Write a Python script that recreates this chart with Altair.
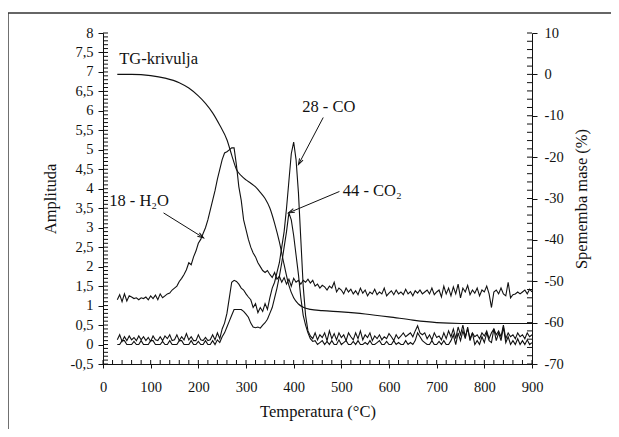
import math
import altair as alt
import pandas as pd

# ---------------- data ----------------
TEMPS = list(range(30, 901, 5))

H2O = [
    1.15, 1.28, 1.10, 1.30, 1.12, 1.25, 1.22, 1.18, 1.20, 1.15,
    1.20, 1.18, 1.22, 1.15, 1.25, 1.18, 1.27, 1.15, 1.30, 1.20,
    1.25, 1.30, 1.32, 1.40, 1.45, 1.50, 1.62, 1.70, 1.80, 1.92,
    2.10, 2.05, 2.25, 2.40, 2.60, 2.70, 2.85, 3.00, 3.20, 3.45,
    3.70, 3.95, 4.25, 4.50, 4.75, 4.92, 4.95, 5.00, 5.05, 5.05,
    4.60, 4.05, 3.70, 3.20, 2.95, 2.70, 2.50, 2.35, 2.25, 2.10,
    2.00, 1.90, 1.85, 1.90, 1.80, 1.72, 1.85, 1.68, 1.75, 1.60,
    1.72, 1.55, 1.68, 1.50, 1.70, 1.60, 1.65, 1.55, 1.65, 1.60,
    1.68, 1.58, 1.65, 1.50, 1.55, 1.45, 1.52, 1.48, 1.40, 1.50,
    1.45, 1.60, 1.35, 1.45, 1.40, 1.30, 1.45, 1.35, 1.42, 1.30,
    1.38, 1.28, 1.45, 1.32, 1.40, 1.25, 1.35, 1.30, 1.42, 1.28,
    1.35, 1.30, 1.45, 1.25, 1.32, 1.38, 1.28, 1.40, 1.30, 1.35,
    1.28, 1.42, 1.30, 1.36, 1.25, 1.38, 1.32, 1.40, 1.30, 1.35,
    1.40, 1.30, 1.45, 1.28, 1.35, 1.40, 1.22, 1.50, 1.30, 1.45,
    1.25, 1.48, 1.30, 1.55, 1.20, 1.45, 1.35, 1.52, 1.28, 1.40,
    1.32, 1.45, 1.25, 1.40, 1.35, 1.50, 1.30, 0.95, 1.35, 1.40,
    1.30, 1.45, 1.30, 1.25, 1.60, 1.20, 1.28, 1.30, 1.35, 1.30,
    1.35, 1.40, 1.30, 1.42, 1.35,
]

CO = [
    0.12, 0.25, 0.08, 0.20, 0.10, 0.22, 0.12, 0.18, 0.10, 0.22,
    0.12, 0.20, 0.10, 0.18, 0.08, 0.22, 0.12, 0.10, 0.20, 0.10,
    0.22, 0.15, 0.25, 0.10, 0.12, 0.25, 0.10, 0.20, 0.12, 0.28,
    0.12, 0.20, 0.10, 0.10, 0.25, 0.12, 0.10, 0.18, 0.10, 0.12,
    0.25, 0.12, 0.30, 0.15, 0.40, 0.55, 0.80, 1.20, 1.60, 1.65,
    1.62, 1.55, 1.45, 1.40, 1.30, 1.22, 1.15, 0.95, 1.05, 0.82,
    0.95, 0.85, 1.05, 0.90, 1.20, 1.45, 1.60, 1.85, 2.10, 2.50,
    2.90, 3.50, 4.20, 4.90, 5.20, 4.75, 3.90, 2.70, 1.50, 0.75,
    0.35, 0.22, 0.15, 0.30, 0.12, 0.25, 0.18, 0.30, 0.10, 0.35,
    0.15, 0.28, 0.12, 0.30, 0.18, 0.25, 0.10, 0.30, 0.20, 0.12,
    0.30, 0.15, 0.35, 0.12, 0.25, 0.18, 0.30, 0.10, 0.22, 0.15,
    0.25, 0.12, 0.20, 0.15, 0.28, 0.20, 0.10, 0.25, 0.15, 0.22,
    0.30, 0.20, 0.25, 0.30, 0.20, 0.35, 0.48, 0.30, 0.25, 0.30,
    0.15, 0.25, 0.12, 0.30, 0.18, 0.22, 0.12, 0.30, 0.15, 0.35,
    0.20, 0.40, 0.15, 0.45, 0.25, 0.50, 0.20, 0.40, 0.15, 0.30,
    0.20, 0.25, 0.15, 0.30, 0.22, 0.35, 0.15, 0.30, 0.40, 0.25,
    0.35, 0.20, 0.50, 0.15, 0.30, 0.20, 0.25, 0.15, 0.30, 0.20,
    0.25, 0.15, 0.30, 0.20, 0.25,
]

CO2 = [
    0.00, 0.00, 0.10, 0.10, 0.00, 0.00, 0.00, 0.08, 0.00, 0.00,
    0.10, 0.00, 0.00, 0.00, 0.10, 0.10, 0.00, 0.00, 0.00, 0.08,
    0.00, 0.00, 0.10, 0.00, 0.00, 0.00, 0.10, 0.10, 0.00, 0.00,
    0.00, 0.10, 0.00, 0.00, 0.08, 0.00, 0.00, 0.10, 0.00, 0.00,
    0.10, 0.00, 0.12, 0.05, 0.20, 0.30, 0.45, 0.60, 0.75, 0.90,
    0.90, 0.90, 0.90, 0.85, 0.78, 0.70, 0.55, 0.45, 0.43, 0.45,
    0.42, 0.50, 0.56, 0.65, 0.80, 0.95, 1.20, 1.45, 1.75, 2.10,
    2.50, 2.90, 3.38, 3.20, 2.80, 2.30, 1.80, 1.20, 0.75, 0.50,
    0.30, 0.15, 0.08, 0.10, 0.00, 0.05, 0.10, 0.00, 0.08, 0.00,
    0.10, 0.00, 0.00, 0.12, 0.00, 0.05, 0.10, 0.00, 0.00, 0.08,
    0.00, 0.10, 0.00, 0.00, 0.05, 0.00, 0.10, 0.00, 0.00, 0.05,
    0.10, 0.00, 0.00, 0.08, 0.00, 0.00, 0.10, 0.00, 0.05, 0.00,
    0.00, 0.10, 0.00, 0.05, 0.00, 0.10, 0.30, 0.20, 0.10, 0.05,
    0.00, 0.00, 0.10, 0.00, 0.00, 0.08, 0.00, 0.10, 0.00, 0.00,
    0.10, 0.25, 0.00, 0.30, 0.10, 0.35, 0.15, 0.45, 0.10, 0.30,
    0.00, 0.10, 0.00, 0.20, 0.05, 0.30, 0.10, 0.05, 0.40, 0.10,
    0.30, 0.10, 0.45, 0.05, 0.20, 0.00, 0.10, 0.00, 0.15, 0.00,
    0.10, 0.00, 0.12, 0.00, 0.05,
]

TG_T = [30, 60, 100, 130, 160, 180, 200, 215, 230, 245, 260, 270, 280, 290,
        300, 310, 320, 330, 340, 350, 360, 370, 380, 390, 400, 410, 420, 435,
        460, 500, 550, 600, 650, 700, 750, 800, 850, 900]
TG_M = [0.0, 0.0, -0.3, -0.9, -2.0, -3.3, -5.2, -7.0, -9.3, -12.3, -15.8, -19.5,
        -23.0, -24.5, -25.5, -26.3, -27.2, -28.5, -30.0, -32.3, -36.0, -40.5,
        -46.0, -51.0, -54.0, -55.5, -56.3, -56.8, -57.1, -57.4, -57.9, -58.6,
        -59.4, -60.0, -60.2, -60.2, -60.2, -60.2]

LABELS = ["TG-krivulja", "28 - CO", "44 - CO\u2082", "18 - H\u2082O"]
LABEL_T = [34, 418, 503, 13]
LABEL_A = [7.32, 6.09, 3.93, 3.68]

ARROW_T1 = [462, 496, 127]
ARROW_A1 = [5.83, 3.93, 3.38]
ARROW_T2 = [410, 389, 211]
ARROW_A2 = [4.62, 3.38, 2.74]

X_TICKS = list(range(0, 901, 100))
X_MINOR = list(range(0, 901, 20))
A_TICKS = [round(-0.5 + 0.5 * i, 1) for i in range(18)]
A_MINOR = [round(-0.5 + 0.1 * i, 1) for i in range(86)]
M_TICKS = list(range(-70, 11, 10))
M_MINOR = list(range(-70, 11, 2))

# ---------------- layout / style ----------------
W, H = 429, 331
FONT = "Liberation Serif, Times New Roman, serif"
INK = "#111111"

series_df = pd.DataFrame({
    "T": TEMPS * 3,
    "a": H2O + CO + CO2,
    "s": ["H2O"] * len(TEMPS) + ["CO"] * len(TEMPS) + ["CO2"] * len(TEMPS),
})
tg_df = pd.DataFrame({"T": TG_T, "m": TG_M})
lab_df = pd.DataFrame({"T": LABEL_T, "a": LABEL_A, "txt": LABELS})
arr_df = pd.DataFrame({"T": ARROW_T1, "a": ARROW_A1, "T2": ARROW_T2, "a2": ARROW_A2})
arr_df["ang"] = [
    (math.degrees(math.atan2((t2 - t1) * W / 900.0, (a2 - a1) * H / 8.5)) + 360) % 360
    for t1, a1, t2, a2 in zip(ARROW_T1, ARROW_A1, ARROW_T2, ARROW_A2)
]

x_scale = alt.Scale(domain=[0, 900], nice=False, zero=False)
a_scale = alt.Scale(domain=[-0.5, 8], nice=False, zero=False)
m_scale = alt.Scale(domain=[-70, 10], nice=False, zero=False)

x_axis = alt.Axis(values=X_TICKS, title="Temperatura (\u00b0C)", tickSize=4,
                  labelPadding=12, titlePadding=10, grid=False, format="d",
                  labelFlush=False)
a_axis = alt.Axis(values=A_TICKS, title="Amplituda", tickSize=5, labelPadding=5,
                  titlePadding=12, grid=False, labelFlush=False,
                  labelExpr="(datum.value < 0 ? '-' : '') + replace(toString(abs(datum.value)), '.', ',')")
m_axis = alt.Axis(values=M_TICKS, title="Spememba mase (%)", orient="right", tickSize=5,
                  labelPadding=7, titlePadding=10, grid=False, labelFlush=False,
                  titleAngle=270, titleBaseline="top",
                  labelExpr="(datum.value < 0 ? '-' : '') + toString(abs(datum.value))")

X = alt.X("T:Q", scale=x_scale, axis=x_axis)
YA = alt.Y("a:Q", scale=a_scale, axis=a_axis)
YM = alt.Y("m:Q", scale=m_scale, axis=m_axis)

lines = alt.Chart(series_df).mark_line(color=INK, strokeWidth=1.1).encode(
    x=X, y=YA, detail="s:N")

labels = alt.Chart(lab_df).mark_text(align="left", baseline="middle", font=FONT,
                                     fontSize=16.5, color=INK).encode(
    x=X, y=YA, text="txt:N")

arrows = alt.Chart(arr_df).mark_rule(color=INK, strokeWidth=1).encode(
    x=X, y=YA, x2="T2:Q", y2="a2:Q")

heads = alt.Chart(arr_df).mark_point(
    shape="M -0.32 1 L 0 0 L 0.32 1", filled=False, stroke=INK, strokeWidth=1,
    size=150, opacity=1).encode(
    x=alt.X("T2:Q", scale=x_scale, axis=x_axis),
    y=alt.Y("a2:Q", scale=a_scale, axis=a_axis),
    angle=alt.Angle("ang:Q", scale=None))

a_minor = alt.Chart(pd.DataFrame({"a": A_MINOR})).mark_rule(color=INK, strokeWidth=1).encode(
    y=YA, x=alt.value(0), x2=alt.value(5))

x_minor = alt.Chart(pd.DataFrame({"T": X_MINOR})).mark_rule(color=INK, strokeWidth=1).encode(
    x=X, y=alt.value(H), y2=alt.value(H - 4))

frame_top = alt.Chart(pd.DataFrame({"k": [0]})).mark_rule(
    color="#333333", strokeWidth=1.4).encode(
    x=alt.value(-95), x2=alt.value(W + 300), y=alt.value(-20))
frame_left = alt.Chart(pd.DataFrame({"k": [0]})).mark_rule(
    color="#333333", strokeWidth=1.4).encode(
    x=alt.value(-95), y=alt.value(-20), y2=alt.value(H + 300))

left = alt.layer(lines, a_minor, x_minor, arrows, heads, labels, frame_top, frame_left)

tg = alt.Chart(tg_df).mark_line(color=INK, strokeWidth=1.1, interpolate="monotone").encode(
    x=X, y=YM)
m_minor = alt.Chart(pd.DataFrame({"m": M_MINOR})).mark_rule(color=INK, strokeWidth=1).encode(
    y=YM, x=alt.value(W), x2=alt.value(W - 5))

right = alt.layer(tg, m_minor)

chart = alt.layer(left, right).resolve_scale(y="independent").properties(
    width=W, height=H,
    autosize=alt.AutoSizeParams(type="none"),
    padding={"left": 95, "top": 25, "right": 79, "bottom": 65},
    background="white",
).configure_view(stroke=None).configure_axis(
    labelFont=FONT, titleFont=FONT, labelFontSize=14.5, titleFontSize=16.5,
    titleFontWeight="normal", labelColor=INK, titleColor=INK,
    domainColor=INK, tickColor=INK, domainWidth=1, tickWidth=1,
)

chart.save("out.html", embed_options={"renderer": "svg", "actions": False})
